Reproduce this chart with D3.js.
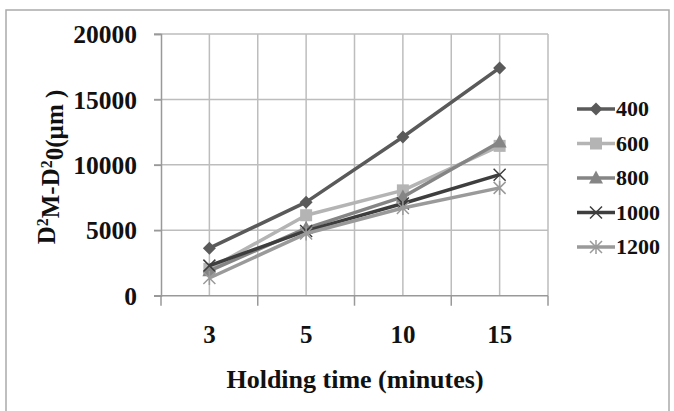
<!DOCTYPE html>
<html><head><meta charset="utf-8">
<script src="https://cdn.jsdelivr.net/npm/d3@7"></script>
<style>
body{margin:0;background:#fff;}
text{font-family:"Liberation Serif","Times New Roman",serif;font-weight:bold;fill:#111;}
</style></head>
<body><svg id="c" width="674" height="411"></svg>
<script>
const categories = ["3","5","10","15"];
const seriesNames = ["400","600","800","1000","1200"];
const s400  = [3630, 7150, 12130, 17410];
const s600  = [2050, 6150, 8050, 11450];
const s800  = [1900, 5150, 7550, 11750];
const s1000 = [2300, 4950, 7050, 9250];
const s1200 = [1350, 4750, 6700, 8240];
const yTicks = [0, 5000, 10000, 15000, 20000];
const xTitle = "Holding time (minutes)";

const seriesValues = [s400, s600, s800, s1000, s1200];
const colors = ["#5a5a5a", "#b4b4b4", "#858585", "#3e3e3e", "#9a9a9a"];
const markers = ["diamond", "square", "triangle", "x", "star"];

const svg = d3.select("#c");
const L = 161, R = 548, T = 34, B = 295.7;
const x = d3.scaleBand().domain(categories).range([L, R]).padding(0);
const y = d3.scaleLinear().domain([0, 20000]).range([B, T]);

// outer border
svg.append("rect").attr("x", 6).attr("y", 10).attr("width", 663).attr("height", 420)
  .attr("fill", "none").attr("stroke", "#aaa").attr("stroke-width", 1.5);

const grid = svg.append("g");
yTicks.filter(t => t > 0).forEach(t => {
  grid.append("line").attr("x1", L - 7).attr("x2", R).attr("y1", y(t)).attr("y2", y(t))
    .attr("stroke", "#bdbdbd").attr("stroke-width", 1.5);
});
const vx = [];
categories.forEach(c => { vx.push(x(c) + x.bandwidth() / 2); });
categories.forEach((c, i) => { if (i > 0) vx.push(x(c)); });
vx.push(R);
vx.forEach(v => {
  grid.append("line").attr("x1", v).attr("x2", v).attr("y1", T).attr("y2", B)
    .attr("stroke", "#bdbdbd").attr("stroke-width", 1.5);
});
const yAxis = d3.axisLeft(y).tickValues(yTicks).tickSize(7).tickPadding(17).tickFormat(d3.format("d"));
const gy = svg.append("g").attr("transform", `translate(${L},0)`).call(yAxis);
gy.select(".domain").attr("stroke", "#999").attr("stroke-width", 1.5);
gy.selectAll(".tick line").attr("stroke", "#999").attr("stroke-width", 1.5);
gy.selectAll(".tick text").style("font-size", "25.5px").attr("dy", "0.34em").attr("fill", "#111");

const gx = svg.append("g").attr("transform", `translate(0,${B})`);
gx.append("line").attr("x1", L - 7).attr("x2", R).attr("y1", 0).attr("y2", 0)
  .attr("stroke", "#999").attr("stroke-width", 1.5);
const bounds = categories.map(c => x(c)).concat([R]);
bounds.forEach(b => {
  gx.append("line").attr("x1", b).attr("x2", b).attr("y1", 0).attr("y2", 10)
    .attr("stroke", "#999").attr("stroke-width", 1.5);
});
categories.forEach(c => {
  gx.append("text").attr("x", x(c) + x.bandwidth() / 2).attr("y", 39)
    .attr("dy", "0.34em").attr("text-anchor", "middle").style("font-size", "25px").text(c);
});

svg.append("text").attr("x", 355).attr("y", 388).attr("text-anchor", "middle")
  .style("font-size", "26px").text(xTitle);
const yt = svg.append("text").attr("transform", "translate(55,167) rotate(-90)")
  .attr("text-anchor", "middle").style("font-size", "25px");
yt.append("tspan").text("D");
yt.append("tspan").attr("dy", "-0.45em").style("font-size", "16px").text("2");
yt.append("tspan").attr("dy", "0.45em").text("M-D");
yt.append("tspan").attr("dy", "-0.45em").style("font-size", "16px").text("2");
yt.append("tspan").attr("dy", "0.45em").text("0(µm )");

function drawMarker(g, type, cx, cy, color) {
  if (type === "diamond") {
    g.append("path").attr("d", `M${cx},${cy-6.5}L${cx+6.5},${cy}L${cx},${cy+6.5}L${cx-6.5},${cy}Z`).attr("fill", color);
  } else if (type === "square") {
    g.append("rect").attr("x", cx - 6).attr("y", cy - 6).attr("width", 12).attr("height", 12).attr("fill", color);
  } else if (type === "triangle") {
    g.append("path").attr("d", `M${cx},${cy-7.5}L${cx+7},${cy+5.5}L${cx-7},${cy+5.5}Z`).attr("fill", color);
  } else if (type === "x") {
    g.append("path").attr("d", `M${cx-6},${cy-6}L${cx+6},${cy+6}M${cx-6},${cy+6}L${cx+6},${cy-6}`)
      .attr("stroke", color).attr("stroke-width", 1.5).attr("fill", "none");
  } else if (type === "star") {
    g.append("path").attr("d", `M${cx-6},${cy-6}L${cx+6},${cy+6}M${cx-6},${cy+6}L${cx+6},${cy-6}M${cx},${cy-7}L${cx},${cy+7}`)
      .attr("stroke", color).attr("stroke-width", 1.5).attr("fill", "none");
  }
}

const line = d3.line().x((d, i) => x(categories[i]) + x.bandwidth() / 2).y(d => y(d));
seriesValues.forEach((vals, si) => {
  const g = svg.append("g");
  g.append("path").datum(vals).attr("d", line).attr("fill", "none")
    .attr("stroke", colors[si]).attr("stroke-width", 3.5).attr("stroke-linejoin", "round");
  vals.forEach((v, i) => drawMarker(g, markers[si], x(categories[i]) + x.bandwidth() / 2, y(v), colors[si]));
});

const lg = svg.append("g");
seriesNames.forEach((n, i) => {
  const ly = 109 + i * 34.5;
  lg.append("line").attr("x1", 577).attr("x2", 615).attr("y1", ly).attr("y2", ly)
    .attr("stroke", colors[i]).attr("stroke-width", 3.5);
  drawMarker(lg, markers[i], 596, ly, colors[i]);
  lg.append("text").attr("x", 616).attr("y", ly).attr("dy", "0.34em").style("font-size", "22px").text(n);
});
</script></body></html>
